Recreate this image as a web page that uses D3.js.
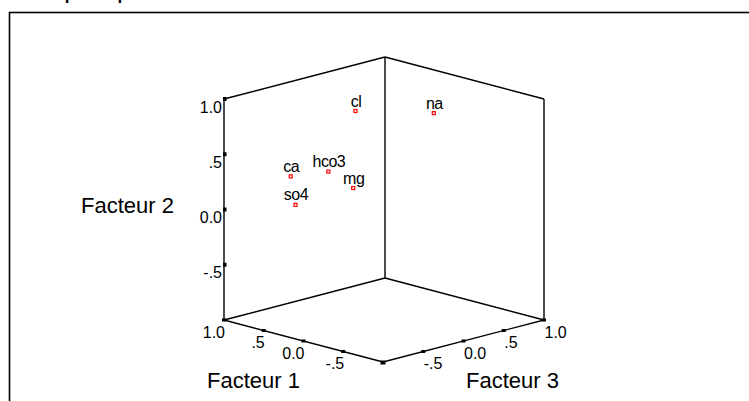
<!DOCTYPE html>
<html>
<head>
<meta charset="utf-8">
<script src="https://cdn.jsdelivr.net/npm/d3@7"></script>
<style>
  body { margin: 0; background: #fff; }
  text { font-family: Arial, "Liberation Sans", sans-serif; fill: #000; }
</style>
</head>
<body>
<div id="vis"></div>
<script>
const width = 749
const height = 401

// variables and their loadings on the three factors
const vars = ['cl', 'na', 'hco3', 'mg', 'ca', 'so4']
const fact1 = [0.42, -0.12, 0.70, 0.60, 0.90, 0.85]
const fact2 = [0.80, 0.80, 0.21, 0.04, 0.18, -0.07]
const fact3 = [0.06, 0.50, 0.00, 0.21, -0.27, -0.26]

const tickVals = [-0.5, 0, 0.5, 1]
const tickLabels = ['-.5', '0.0', '.5', '1.0']

const svg = d3.select('#vis')
  .append('svg')
  .attr('width', width)
  .attr('height', height)

// oblique projection of the cube, center of cube at origin
const origin = { x: 384, y: 209.5 }
const s1x = d3.scaleLinear([-1, 1], [79.5, -79.5])
const s1y = d3.scaleLinear([-1, 1], [21, -21])
const s3x = d3.scaleLinear([-1, 1], [-80.5, 80.5])
const s3y = d3.scaleLinear([-1, 1], [21, -21])
const s2y = d3.scaleLinear([-1, 1], [110.5, -110.5])

const project = (f1, f2, f3) => [
  origin.x + s1x(f1) + s3x(f3),
  origin.y + s1y(f1) + s3y(f3) + s2y(f2)
]

// outer frame (only partly visible)
svg.append('rect')
  .attr('x', 9.5).attr('y', 12.5)
  .attr('width', 800).attr('height', 500)
  .attr('fill', 'none')
  .attr('stroke', '#000')
  .attr('stroke-width', 1.6)

// title, cut by the top of the picture
svg.append('text')
  .attr('x', 37).attr('y', -21)
  .style('font-size', '17px').style('font-weight', 'bold')
  .text('Diagramme des composantes dans')
svg.append('text')
  .attr('x', 37).attr('y', -0.5)
  .style('font-size', '17px').style('font-weight', 'bold')
  .text("l'espace après rotation")

// the three back walls of the cube
const edges = [
  [[1, -1, -1], [1, 1, -1]],   // front-left vertical (Facteur 2 axis)
  [[1, 1, -1], [1, 1, 1]],
  [[1, 1, 1], [-1, 1, 1]],
  [[1, -1, 1], [1, 1, 1]],     // back vertical
  [[-1, -1, 1], [-1, 1, 1]],   // right vertical
  [[1, -1, -1], [1, -1, 1]],
  [[1, -1, 1], [-1, -1, 1]],
  [[1, -1, -1], [-1, -1, -1]], // Facteur 1 axis
  [[-1, -1, -1], [-1, -1, 1]]  // Facteur 3 axis
]
const line = d3.line()
svg.append('g')
  .selectAll('path')
  .data(edges)
  .join('path')
  .attr('d', d => line([project(...d[0]), project(...d[1])]))
  .attr('fill', 'none')
  .attr('stroke', '#000')
  .attr('stroke-width', 1.4)

const ticks = svg.append('g')

// Facteur 2 (vertical) ticks
tickVals.forEach((v, i) => {
  const [x, y] = project(1, v, -1)
  ticks.append('rect').attr('x', x - 1).attr('y', y - 2).attr('width', 3.5).attr('height', 4).attr('fill', '#000')
  ticks.append('text')
    .attr('x', x - 2).attr('y', y + 13.5)
    .attr('text-anchor', 'end')
    .style('font-size', '16px')
    .text(tickLabels[i])
})

// Facteur 1 ticks (along front-left floor edge), 1.0 at the left corner
;[-1, ...tickVals].forEach(v => {
  const [x, y] = project(v, -1, -1)
  const s = v === -1 ? 5 : 4
  ticks.append('rect').attr('x', x - s / 2).attr('y', y - 1.5).attr('width', s).attr('height', s === 5 ? 4 : 3).attr('fill', '#000')
})
tickVals.forEach((v, i) => {
  const [x, y] = project(v, -1, -1)
  ticks.append('text')
    .attr('x', x + 1).attr('y', y + 17.5)
    .attr('text-anchor', 'end')
    .style('font-size', '16px')
    .text(tickLabels[i])
})

// Facteur 3 ticks (along front-right floor edge)
tickVals.forEach((v, i) => {
  const [x, y] = project(-1, -1, v)
  ticks.append('rect').attr('x', x - 2).attr('y', y - 1.5).attr('width', 4).attr('height', 3).attr('fill', '#000')
  ticks.append('text')
    .attr('x', x + 0.5).attr('y', y + 17.5)
    .style('font-size', '16px')
    .text(tickLabels[i])
})

// axis titles
svg.append('text').attr('x', 81).attr('y', 213).style('font-size', '22px').text('Facteur 2')
svg.append('text').attr('x', 207).attr('y', 388).style('font-size', '22px').text('Facteur 1')
svg.append('text').attr('x', 466).attr('y', 388).style('font-size', '22px').text('Facteur 3')

// points
const pts = vars.map((v, i) => {
  const [x, y] = project(fact1[i], fact2[i], fact3[i])
  return { name: v, x, y }
})
const pg = svg.append('g')
pg.selectAll('rect')
  .data(pts)
  .join('rect')
  .attr('x', d => d.x - 1.5)
  .attr('y', d => d.y - 1.5)
  .attr('width', 3)
  .attr('height', 3)
  .attr('fill', '#fff')
  .attr('stroke', '#f00')
  .attr('stroke-width', 1.2)
pg.selectAll('text')
  .data(pts)
  .join('text')
  .attr('x', d => d.x + 0.5)
  .attr('y', d => d.y - 4.5)
  .attr('text-anchor', 'middle')
  .style('font-size', '16px')
  .style('letter-spacing', '-0.5px')
  .text(d => d.name)
</script>
</body>
</html>
